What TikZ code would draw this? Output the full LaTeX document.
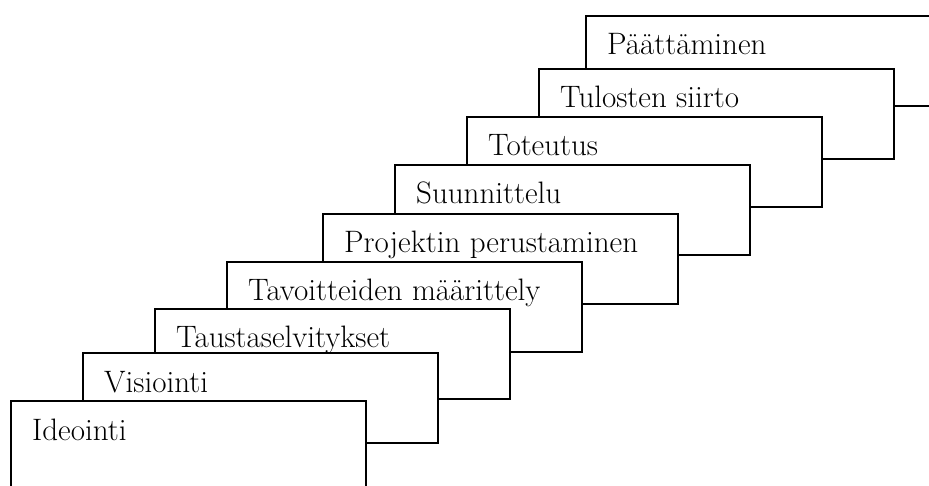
\documentclass[tikz,border=0pt]{standalone}
\usepackage{fontspec}
\usepackage{tikz}

\tikzset{
	phase/.style={draw, fill=white, line width=1.8pt, anchor=north west,
		minimum width=355pt, minimum height=90pt, inner sep=0pt},
	phasetext/.style={anchor=base west, inner sep=0pt, font=\fontsize{31}{37}\selectfont}
}

\begin{document}
\begin{tikzpicture}[x=1pt, y=-1pt]
			\clip (0,0) rectangle (929,486);
			\useasboundingbox (0,0) rectangle (929,486);

			% back to front, so that each box covers the one behind
			\node[phase] (p9) at (585,15) {};
			\node[phasetext] (t9) at ([shift={(22pt,-40pt)}]p9.north west) {Päättäminen};
			\node[phase] (p8) at (538,68) {};
			\node[phasetext] (t8) at ([shift={(22pt,-40pt)}]p8.north west) {Tulosten siirto};
			\node[phase] (p7) at (466,116) {};
			\node[phasetext] (t7) at ([shift={(22pt,-40pt)}]p7.north west) {Toteutus};
			\node[phase] (p6) at (394,164) {};
			\node[phasetext] (t6) at ([shift={(22pt,-40pt)}]p6.north west) {Suunnittelu};
			\node[phase] (p5) at (322,213) {};
			\node[phasetext] (t5) at ([shift={(22pt,-40pt)}]p5.north west) {Projektin perustaminen};
			\node[phase] (p4) at (226,261) {};
			\node[phasetext] (t4) at ([shift={(22pt,-40pt)}]p4.north west) {Tavoitteiden määrittely};
			\node[phase] (p3) at (154,308) {};
			\node[phasetext] (t3) at ([shift={(22pt,-40pt)}]p3.north west) {Taustaselvitykset};
			\node[phase] (p2) at (82,352) {};
			\node[phasetext] (t2) at ([shift={(22pt,-40pt)}]p2.north west) {Visiointi};
			\node[phase] (p1) at (10,400) {};
			\node[phasetext] (t1) at ([shift={(22pt,-40pt)}]p1.north west) {Ideointi};
		\end{tikzpicture}
\end{document}
